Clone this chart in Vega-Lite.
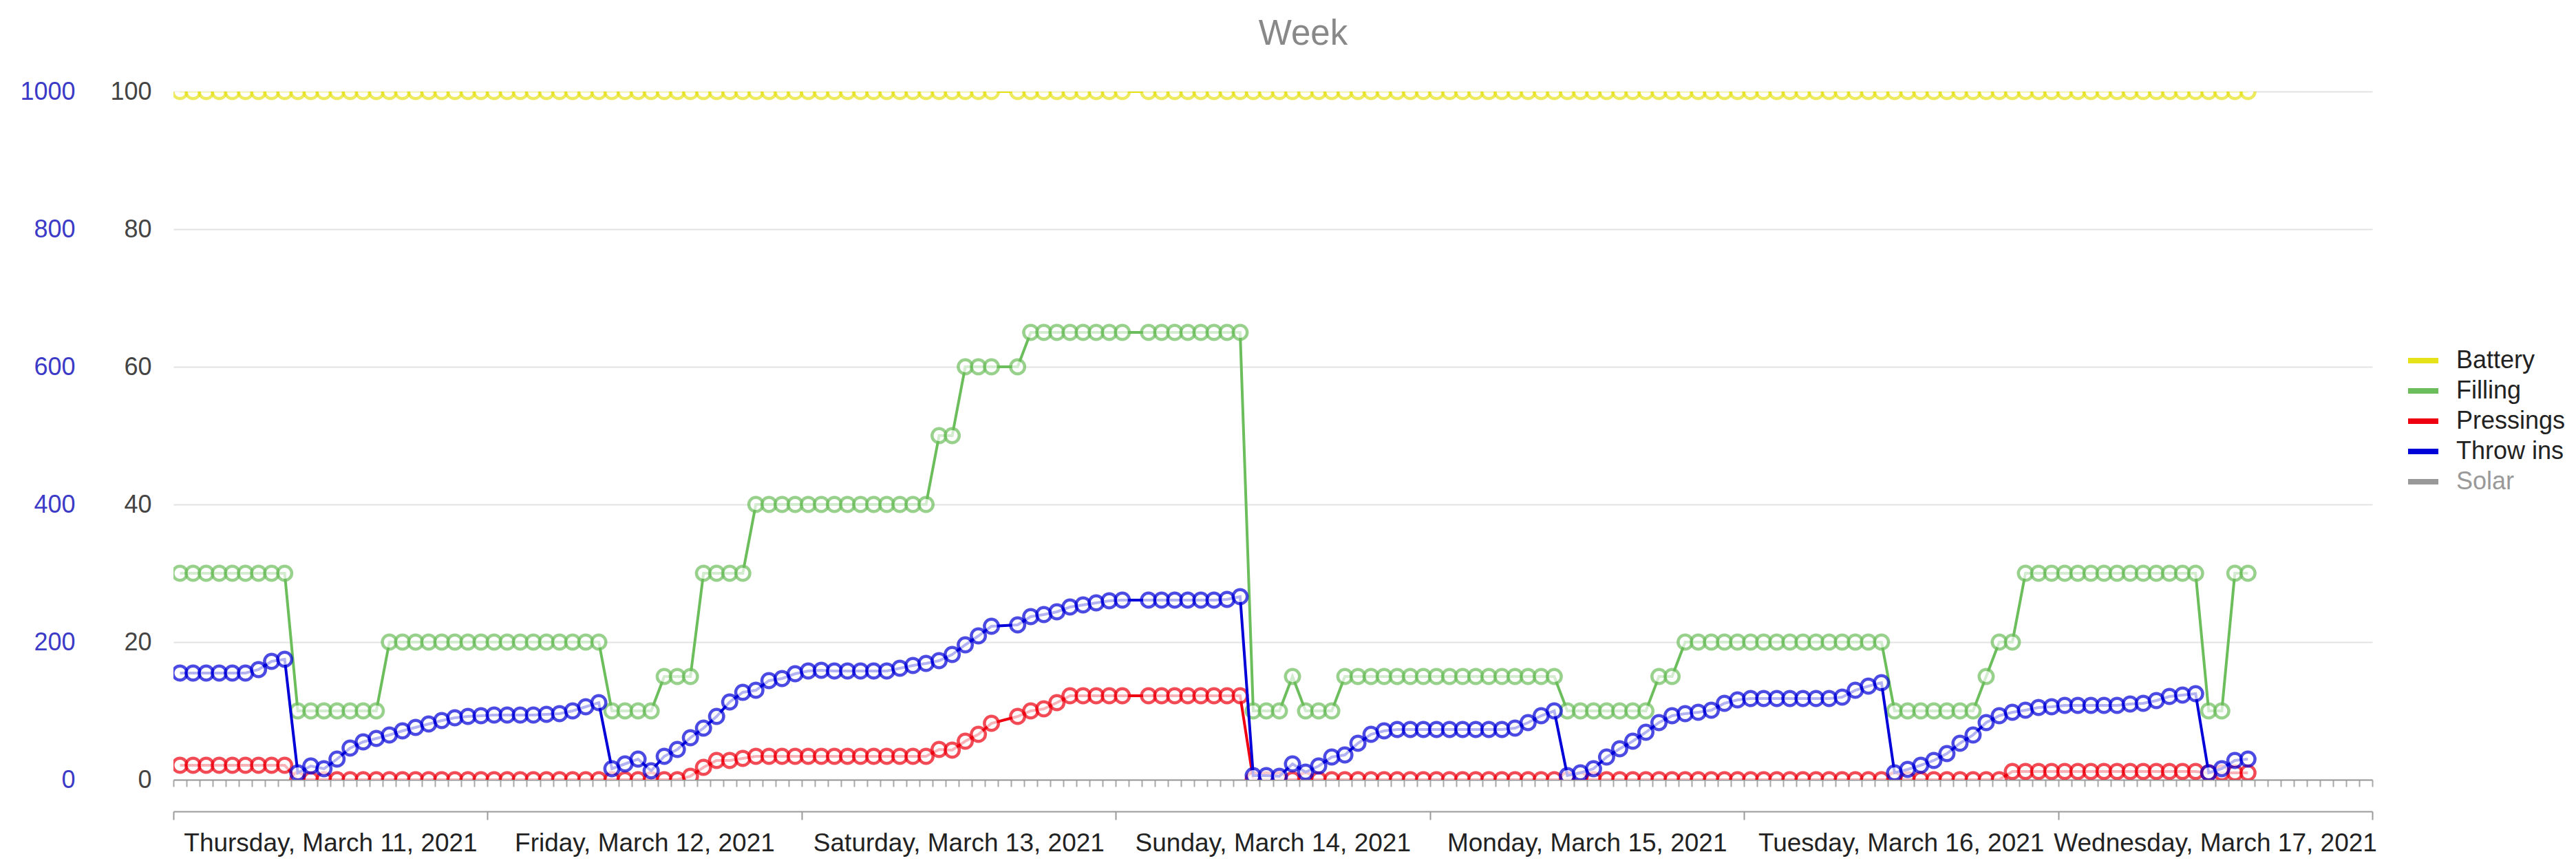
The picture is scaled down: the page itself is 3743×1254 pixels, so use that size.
{
"$schema": "https://vega.github.io/schema/vega-lite/v6.json",
"autosize": "none",
"width": 3195,
"height": 1000,
"padding": {"left": 252, "top": 133, "right": 296, "bottom": 121},
"background": "white",
"config": {"font": "Liberation Sans", "view": {"stroke": null}},
"title": {"text": "Week", "fontSize": 51, "color": "#888888", "fontWeight": "normal", "anchor": "middle", "dx": 44, "offset": 39},
"datasets": {
"battery": [
{"t":"2021-03-11T00:30","v":100},{"t":"2021-03-11T01:30","v":100},{"t":"2021-03-11T02:30","v":100},{"t":"2021-03-11T03:30","v":100},{"t":"2021-03-11T04:30","v":100},{"t":"2021-03-11T05:30","v":100},{"t":"2021-03-11T06:30","v":100},{"t":"2021-03-11T07:30","v":100},{"t":"2021-03-11T08:30","v":100},{"t":"2021-03-11T09:30","v":100},{"t":"2021-03-11T10:30","v":100},{"t":"2021-03-11T11:30","v":100},{"t":"2021-03-11T12:30","v":100},{"t":"2021-03-11T13:30","v":100},{"t":"2021-03-11T14:30","v":100},{"t":"2021-03-11T15:30","v":100},{"t":"2021-03-11T16:30","v":100},{"t":"2021-03-11T17:30","v":100},{"t":"2021-03-11T18:30","v":100},{"t":"2021-03-11T19:30","v":100},{"t":"2021-03-11T20:30","v":100},{"t":"2021-03-11T21:30","v":100},{"t":"2021-03-11T22:30","v":100},{"t":"2021-03-11T23:30","v":100},
{"t":"2021-03-12T00:30","v":100},{"t":"2021-03-12T01:30","v":100},{"t":"2021-03-12T02:30","v":100},{"t":"2021-03-12T03:30","v":100},{"t":"2021-03-12T04:30","v":100},{"t":"2021-03-12T05:30","v":100},{"t":"2021-03-12T06:30","v":100},{"t":"2021-03-12T07:30","v":100},{"t":"2021-03-12T08:30","v":100},{"t":"2021-03-12T09:30","v":100},{"t":"2021-03-12T10:30","v":100},{"t":"2021-03-12T11:30","v":100},{"t":"2021-03-12T12:30","v":100},{"t":"2021-03-12T13:30","v":100},{"t":"2021-03-12T14:30","v":100},{"t":"2021-03-12T15:30","v":100},{"t":"2021-03-12T16:30","v":100},{"t":"2021-03-12T17:30","v":100},{"t":"2021-03-12T18:30","v":100},{"t":"2021-03-12T19:30","v":100},{"t":"2021-03-12T20:30","v":100},{"t":"2021-03-12T21:30","v":100},{"t":"2021-03-12T22:30","v":100},{"t":"2021-03-12T23:30","v":100},
{"t":"2021-03-13T00:30","v":100},{"t":"2021-03-13T01:30","v":100},{"t":"2021-03-13T02:30","v":100},{"t":"2021-03-13T03:30","v":100},{"t":"2021-03-13T04:30","v":100},{"t":"2021-03-13T05:30","v":100},{"t":"2021-03-13T06:30","v":100},{"t":"2021-03-13T07:30","v":100},{"t":"2021-03-13T08:30","v":100},{"t":"2021-03-13T09:30","v":100},{"t":"2021-03-13T10:30","v":100},{"t":"2021-03-13T11:30","v":100},{"t":"2021-03-13T12:30","v":100},{"t":"2021-03-13T13:30","v":100},{"t":"2021-03-13T14:30","v":100},{"t":"2021-03-13T16:30","v":100},{"t":"2021-03-13T17:30","v":100},{"t":"2021-03-13T18:30","v":100},{"t":"2021-03-13T19:30","v":100},{"t":"2021-03-13T20:30","v":100},{"t":"2021-03-13T21:30","v":100},{"t":"2021-03-13T22:30","v":100},{"t":"2021-03-13T23:30","v":100},
{"t":"2021-03-14T00:30","v":100},{"t":"2021-03-14T02:30","v":100},{"t":"2021-03-14T03:30","v":100},{"t":"2021-03-14T04:30","v":100},{"t":"2021-03-14T05:30","v":100},{"t":"2021-03-14T06:30","v":100},{"t":"2021-03-14T07:30","v":100},{"t":"2021-03-14T08:30","v":100},{"t":"2021-03-14T09:30","v":100},{"t":"2021-03-14T10:30","v":100},{"t":"2021-03-14T11:30","v":100},{"t":"2021-03-14T12:30","v":100},{"t":"2021-03-14T13:30","v":100},{"t":"2021-03-14T14:30","v":100},{"t":"2021-03-14T15:30","v":100},{"t":"2021-03-14T16:30","v":100},{"t":"2021-03-14T17:30","v":100},{"t":"2021-03-14T18:30","v":100},{"t":"2021-03-14T19:30","v":100},{"t":"2021-03-14T20:30","v":100},{"t":"2021-03-14T21:30","v":100},{"t":"2021-03-14T22:30","v":100},{"t":"2021-03-14T23:30","v":100},
{"t":"2021-03-15T00:30","v":100},{"t":"2021-03-15T01:30","v":100},{"t":"2021-03-15T02:30","v":100},{"t":"2021-03-15T03:30","v":100},{"t":"2021-03-15T04:30","v":100},{"t":"2021-03-15T05:30","v":100},{"t":"2021-03-15T06:30","v":100},{"t":"2021-03-15T07:30","v":100},{"t":"2021-03-15T08:30","v":100},{"t":"2021-03-15T09:30","v":100},{"t":"2021-03-15T10:30","v":100},{"t":"2021-03-15T11:30","v":100},{"t":"2021-03-15T12:30","v":100},{"t":"2021-03-15T13:30","v":100},{"t":"2021-03-15T14:30","v":100},{"t":"2021-03-15T15:30","v":100},{"t":"2021-03-15T16:30","v":100},{"t":"2021-03-15T17:30","v":100},{"t":"2021-03-15T18:30","v":100},{"t":"2021-03-15T19:30","v":100},{"t":"2021-03-15T20:30","v":100},{"t":"2021-03-15T21:30","v":100},{"t":"2021-03-15T22:30","v":100},{"t":"2021-03-15T23:30","v":100},
{"t":"2021-03-16T00:30","v":100},{"t":"2021-03-16T01:30","v":100},{"t":"2021-03-16T02:30","v":100},{"t":"2021-03-16T03:30","v":100},{"t":"2021-03-16T04:30","v":100},{"t":"2021-03-16T05:30","v":100},{"t":"2021-03-16T06:30","v":100},{"t":"2021-03-16T07:30","v":100},{"t":"2021-03-16T08:30","v":100},{"t":"2021-03-16T09:30","v":100},{"t":"2021-03-16T10:30","v":100},{"t":"2021-03-16T11:30","v":100},{"t":"2021-03-16T12:30","v":100},{"t":"2021-03-16T13:30","v":100},{"t":"2021-03-16T14:30","v":100},{"t":"2021-03-16T15:30","v":100},{"t":"2021-03-16T16:30","v":100},{"t":"2021-03-16T17:30","v":100},{"t":"2021-03-16T18:30","v":100},{"t":"2021-03-16T19:30","v":100},{"t":"2021-03-16T20:30","v":100},{"t":"2021-03-16T21:30","v":100},{"t":"2021-03-16T22:30","v":100},{"t":"2021-03-16T23:30","v":100},
{"t":"2021-03-17T00:30","v":100},{"t":"2021-03-17T01:30","v":100},{"t":"2021-03-17T02:30","v":100},{"t":"2021-03-17T03:30","v":100},{"t":"2021-03-17T04:30","v":100},{"t":"2021-03-17T05:30","v":100},{"t":"2021-03-17T06:30","v":100},{"t":"2021-03-17T07:30","v":100},{"t":"2021-03-17T08:30","v":100},{"t":"2021-03-17T09:30","v":100},{"t":"2021-03-17T10:30","v":100},{"t":"2021-03-17T11:30","v":100},{"t":"2021-03-17T12:30","v":100},{"t":"2021-03-17T13:30","v":100},{"t":"2021-03-17T14:30","v":100}
],
"filling": [
{"t":"2021-03-11T00:30","v":30},{"t":"2021-03-11T01:30","v":30},{"t":"2021-03-11T02:30","v":30},{"t":"2021-03-11T03:30","v":30},{"t":"2021-03-11T04:30","v":30},{"t":"2021-03-11T05:30","v":30},{"t":"2021-03-11T06:30","v":30},{"t":"2021-03-11T07:30","v":30},{"t":"2021-03-11T08:30","v":30},{"t":"2021-03-11T09:30","v":10},{"t":"2021-03-11T10:30","v":10},{"t":"2021-03-11T11:30","v":10},{"t":"2021-03-11T12:30","v":10},{"t":"2021-03-11T13:30","v":10},{"t":"2021-03-11T14:30","v":10},{"t":"2021-03-11T15:30","v":10},{"t":"2021-03-11T16:30","v":20},{"t":"2021-03-11T17:30","v":20},{"t":"2021-03-11T18:30","v":20},{"t":"2021-03-11T19:30","v":20},{"t":"2021-03-11T20:30","v":20},{"t":"2021-03-11T21:30","v":20},{"t":"2021-03-11T22:30","v":20},{"t":"2021-03-11T23:30","v":20},
{"t":"2021-03-12T00:30","v":20},{"t":"2021-03-12T01:30","v":20},{"t":"2021-03-12T02:30","v":20},{"t":"2021-03-12T03:30","v":20},{"t":"2021-03-12T04:30","v":20},{"t":"2021-03-12T05:30","v":20},{"t":"2021-03-12T06:30","v":20},{"t":"2021-03-12T07:30","v":20},{"t":"2021-03-12T08:30","v":20},{"t":"2021-03-12T09:30","v":10},{"t":"2021-03-12T10:30","v":10},{"t":"2021-03-12T11:30","v":10},{"t":"2021-03-12T12:30","v":10},{"t":"2021-03-12T13:30","v":15},{"t":"2021-03-12T14:30","v":15},{"t":"2021-03-12T15:30","v":15},{"t":"2021-03-12T16:30","v":30},{"t":"2021-03-12T17:30","v":30},{"t":"2021-03-12T18:30","v":30},{"t":"2021-03-12T19:30","v":30},{"t":"2021-03-12T20:30","v":40},{"t":"2021-03-12T21:30","v":40},{"t":"2021-03-12T22:30","v":40},{"t":"2021-03-12T23:30","v":40},
{"t":"2021-03-13T00:30","v":40},{"t":"2021-03-13T01:30","v":40},{"t":"2021-03-13T02:30","v":40},{"t":"2021-03-13T03:30","v":40},{"t":"2021-03-13T04:30","v":40},{"t":"2021-03-13T05:30","v":40},{"t":"2021-03-13T06:30","v":40},{"t":"2021-03-13T07:30","v":40},{"t":"2021-03-13T08:30","v":40},{"t":"2021-03-13T09:30","v":40},{"t":"2021-03-13T10:30","v":50},{"t":"2021-03-13T11:30","v":50},{"t":"2021-03-13T12:30","v":60},{"t":"2021-03-13T13:30","v":60},{"t":"2021-03-13T14:30","v":60},{"t":"2021-03-13T16:30","v":60},{"t":"2021-03-13T17:30","v":65},{"t":"2021-03-13T18:30","v":65},{"t":"2021-03-13T19:30","v":65},{"t":"2021-03-13T20:30","v":65},{"t":"2021-03-13T21:30","v":65},{"t":"2021-03-13T22:30","v":65},{"t":"2021-03-13T23:30","v":65},
{"t":"2021-03-14T00:30","v":65},{"t":"2021-03-14T02:30","v":65},{"t":"2021-03-14T03:30","v":65},{"t":"2021-03-14T04:30","v":65},{"t":"2021-03-14T05:30","v":65},{"t":"2021-03-14T06:30","v":65},{"t":"2021-03-14T07:30","v":65},{"t":"2021-03-14T08:30","v":65},{"t":"2021-03-14T09:30","v":65},{"t":"2021-03-14T10:30","v":10},{"t":"2021-03-14T11:30","v":10},{"t":"2021-03-14T12:30","v":10},{"t":"2021-03-14T13:30","v":15},{"t":"2021-03-14T14:30","v":10},{"t":"2021-03-14T15:30","v":10},{"t":"2021-03-14T16:30","v":10},{"t":"2021-03-14T17:30","v":15},{"t":"2021-03-14T18:30","v":15},{"t":"2021-03-14T19:30","v":15},{"t":"2021-03-14T20:30","v":15},{"t":"2021-03-14T21:30","v":15},{"t":"2021-03-14T22:30","v":15},{"t":"2021-03-14T23:30","v":15},
{"t":"2021-03-15T00:30","v":15},{"t":"2021-03-15T01:30","v":15},{"t":"2021-03-15T02:30","v":15},{"t":"2021-03-15T03:30","v":15},{"t":"2021-03-15T04:30","v":15},{"t":"2021-03-15T05:30","v":15},{"t":"2021-03-15T06:30","v":15},{"t":"2021-03-15T07:30","v":15},{"t":"2021-03-15T08:30","v":15},{"t":"2021-03-15T09:30","v":15},{"t":"2021-03-15T10:30","v":10},{"t":"2021-03-15T11:30","v":10},{"t":"2021-03-15T12:30","v":10},{"t":"2021-03-15T13:30","v":10},{"t":"2021-03-15T14:30","v":10},{"t":"2021-03-15T15:30","v":10},{"t":"2021-03-15T16:30","v":10},{"t":"2021-03-15T17:30","v":15},{"t":"2021-03-15T18:30","v":15},{"t":"2021-03-15T19:30","v":20},{"t":"2021-03-15T20:30","v":20},{"t":"2021-03-15T21:30","v":20},{"t":"2021-03-15T22:30","v":20},{"t":"2021-03-15T23:30","v":20},
{"t":"2021-03-16T00:30","v":20},{"t":"2021-03-16T01:30","v":20},{"t":"2021-03-16T02:30","v":20},{"t":"2021-03-16T03:30","v":20},{"t":"2021-03-16T04:30","v":20},{"t":"2021-03-16T05:30","v":20},{"t":"2021-03-16T06:30","v":20},{"t":"2021-03-16T07:30","v":20},{"t":"2021-03-16T08:30","v":20},{"t":"2021-03-16T09:30","v":20},{"t":"2021-03-16T10:30","v":20},{"t":"2021-03-16T11:30","v":10},{"t":"2021-03-16T12:30","v":10},{"t":"2021-03-16T13:30","v":10},{"t":"2021-03-16T14:30","v":10},{"t":"2021-03-16T15:30","v":10},{"t":"2021-03-16T16:30","v":10},{"t":"2021-03-16T17:30","v":10},{"t":"2021-03-16T18:30","v":15},{"t":"2021-03-16T19:30","v":20},{"t":"2021-03-16T20:30","v":20},{"t":"2021-03-16T21:30","v":30},{"t":"2021-03-16T22:30","v":30},{"t":"2021-03-16T23:30","v":30},
{"t":"2021-03-17T00:30","v":30},{"t":"2021-03-17T01:30","v":30},{"t":"2021-03-17T02:30","v":30},{"t":"2021-03-17T03:30","v":30},{"t":"2021-03-17T04:30","v":30},{"t":"2021-03-17T05:30","v":30},{"t":"2021-03-17T06:30","v":30},{"t":"2021-03-17T07:30","v":30},{"t":"2021-03-17T08:30","v":30},{"t":"2021-03-17T09:30","v":30},{"t":"2021-03-17T10:30","v":30},{"t":"2021-03-17T11:30","v":10},{"t":"2021-03-17T12:30","v":10},{"t":"2021-03-17T13:30","v":30},{"t":"2021-03-17T14:30","v":30}
],
"pressings": [
{"t":"2021-03-11T00:30","v":2.1},{"t":"2021-03-11T01:30","v":2.1},{"t":"2021-03-11T02:30","v":2.1},{"t":"2021-03-11T03:30","v":2.1},{"t":"2021-03-11T04:30","v":2.1},{"t":"2021-03-11T05:30","v":2.1},{"t":"2021-03-11T06:30","v":2.1},{"t":"2021-03-11T07:30","v":2.1},{"t":"2021-03-11T08:30","v":2.1},{"t":"2021-03-11T09:30","v":0},{"t":"2021-03-11T10:30","v":0},{"t":"2021-03-11T11:30","v":0},{"t":"2021-03-11T12:30","v":0},{"t":"2021-03-11T13:30","v":0},{"t":"2021-03-11T14:30","v":0},{"t":"2021-03-11T15:30","v":0},{"t":"2021-03-11T16:30","v":0},{"t":"2021-03-11T17:30","v":0},{"t":"2021-03-11T18:30","v":0},{"t":"2021-03-11T19:30","v":0},{"t":"2021-03-11T20:30","v":0},{"t":"2021-03-11T21:30","v":0},{"t":"2021-03-11T22:30","v":0},{"t":"2021-03-11T23:30","v":0},
{"t":"2021-03-12T00:30","v":0},{"t":"2021-03-12T01:30","v":0},{"t":"2021-03-12T02:30","v":0},{"t":"2021-03-12T03:30","v":0},{"t":"2021-03-12T04:30","v":0},{"t":"2021-03-12T05:30","v":0},{"t":"2021-03-12T06:30","v":0},{"t":"2021-03-12T07:30","v":0},{"t":"2021-03-12T08:30","v":0},{"t":"2021-03-12T09:30","v":0},{"t":"2021-03-12T10:30","v":0},{"t":"2021-03-12T11:30","v":0},{"t":"2021-03-12T12:30","v":0},{"t":"2021-03-12T13:30","v":0},{"t":"2021-03-12T14:30","v":0},{"t":"2021-03-12T15:30","v":0.5},{"t":"2021-03-12T16:30","v":1.8},{"t":"2021-03-12T17:30","v":2.8},{"t":"2021-03-12T18:30","v":2.8},{"t":"2021-03-12T19:30","v":3.1},{"t":"2021-03-12T20:30","v":3.4},{"t":"2021-03-12T21:30","v":3.4},{"t":"2021-03-12T22:30","v":3.4},{"t":"2021-03-12T23:30","v":3.4},
{"t":"2021-03-13T00:30","v":3.4},{"t":"2021-03-13T01:30","v":3.4},{"t":"2021-03-13T02:30","v":3.4},{"t":"2021-03-13T03:30","v":3.4},{"t":"2021-03-13T04:30","v":3.4},{"t":"2021-03-13T05:30","v":3.4},{"t":"2021-03-13T06:30","v":3.4},{"t":"2021-03-13T07:30","v":3.4},{"t":"2021-03-13T08:30","v":3.4},{"t":"2021-03-13T09:30","v":3.4},{"t":"2021-03-13T10:30","v":4.4},{"t":"2021-03-13T11:30","v":4.3},{"t":"2021-03-13T12:30","v":5.6},{"t":"2021-03-13T13:30","v":6.6},{"t":"2021-03-13T14:30","v":8.2},{"t":"2021-03-13T16:30","v":9.2},{"t":"2021-03-13T17:30","v":10.0},{"t":"2021-03-13T18:30","v":10.3},{"t":"2021-03-13T19:30","v":11.2},{"t":"2021-03-13T20:30","v":12.2},{"t":"2021-03-13T21:30","v":12.2},{"t":"2021-03-13T22:30","v":12.2},{"t":"2021-03-13T23:30","v":12.2},
{"t":"2021-03-14T00:30","v":12.2},{"t":"2021-03-14T02:30","v":12.2},{"t":"2021-03-14T03:30","v":12.2},{"t":"2021-03-14T04:30","v":12.2},{"t":"2021-03-14T05:30","v":12.2},{"t":"2021-03-14T06:30","v":12.2},{"t":"2021-03-14T07:30","v":12.2},{"t":"2021-03-14T08:30","v":12.2},{"t":"2021-03-14T09:30","v":12.2},{"t":"2021-03-14T10:30","v":0},{"t":"2021-03-14T11:30","v":0},{"t":"2021-03-14T12:30","v":0},{"t":"2021-03-14T13:30","v":0},{"t":"2021-03-14T14:30","v":0},{"t":"2021-03-14T15:30","v":0},{"t":"2021-03-14T16:30","v":0},{"t":"2021-03-14T17:30","v":0},{"t":"2021-03-14T18:30","v":0},{"t":"2021-03-14T19:30","v":0},{"t":"2021-03-14T20:30","v":0},{"t":"2021-03-14T21:30","v":0},{"t":"2021-03-14T22:30","v":0},{"t":"2021-03-14T23:30","v":0},
{"t":"2021-03-15T00:30","v":0},{"t":"2021-03-15T01:30","v":0},{"t":"2021-03-15T02:30","v":0},{"t":"2021-03-15T03:30","v":0},{"t":"2021-03-15T04:30","v":0},{"t":"2021-03-15T05:30","v":0},{"t":"2021-03-15T06:30","v":0},{"t":"2021-03-15T07:30","v":0},{"t":"2021-03-15T08:30","v":0},{"t":"2021-03-15T09:30","v":0},{"t":"2021-03-15T10:30","v":0},{"t":"2021-03-15T11:30","v":0},{"t":"2021-03-15T12:30","v":0},{"t":"2021-03-15T13:30","v":0},{"t":"2021-03-15T14:30","v":0},{"t":"2021-03-15T15:30","v":0},{"t":"2021-03-15T16:30","v":0},{"t":"2021-03-15T17:30","v":0},{"t":"2021-03-15T18:30","v":0},{"t":"2021-03-15T19:30","v":0},{"t":"2021-03-15T20:30","v":0},{"t":"2021-03-15T21:30","v":0},{"t":"2021-03-15T22:30","v":0},{"t":"2021-03-15T23:30","v":0},
{"t":"2021-03-16T00:30","v":0},{"t":"2021-03-16T01:30","v":0},{"t":"2021-03-16T02:30","v":0},{"t":"2021-03-16T03:30","v":0},{"t":"2021-03-16T04:30","v":0},{"t":"2021-03-16T05:30","v":0},{"t":"2021-03-16T06:30","v":0},{"t":"2021-03-16T07:30","v":0},{"t":"2021-03-16T08:30","v":0},{"t":"2021-03-16T09:30","v":0},{"t":"2021-03-16T10:30","v":0},{"t":"2021-03-16T11:30","v":0},{"t":"2021-03-16T12:30","v":0},{"t":"2021-03-16T13:30","v":0},{"t":"2021-03-16T14:30","v":0},{"t":"2021-03-16T15:30","v":0},{"t":"2021-03-16T16:30","v":0},{"t":"2021-03-16T17:30","v":0},{"t":"2021-03-16T18:30","v":0},{"t":"2021-03-16T19:30","v":0},{"t":"2021-03-16T20:30","v":1.2},{"t":"2021-03-16T21:30","v":1.2},{"t":"2021-03-16T22:30","v":1.2},{"t":"2021-03-16T23:30","v":1.2},
{"t":"2021-03-17T00:30","v":1.2},{"t":"2021-03-17T01:30","v":1.2},{"t":"2021-03-17T02:30","v":1.2},{"t":"2021-03-17T03:30","v":1.2},{"t":"2021-03-17T04:30","v":1.2},{"t":"2021-03-17T05:30","v":1.2},{"t":"2021-03-17T06:30","v":1.2},{"t":"2021-03-17T07:30","v":1.2},{"t":"2021-03-17T08:30","v":1.2},{"t":"2021-03-17T09:30","v":1.2},{"t":"2021-03-17T10:30","v":1.2},{"t":"2021-03-17T11:30","v":1.0},{"t":"2021-03-17T12:30","v":1.0},{"t":"2021-03-17T13:30","v":1.0},{"t":"2021-03-17T14:30","v":1.0}
],
"throwins": [
{"t":"2021-03-11T00:30","v":155},{"t":"2021-03-11T01:30","v":155},{"t":"2021-03-11T02:30","v":155},{"t":"2021-03-11T03:30","v":155},{"t":"2021-03-11T04:30","v":155},{"t":"2021-03-11T05:30","v":155},{"t":"2021-03-11T06:30","v":160},{"t":"2021-03-11T07:30","v":172},{"t":"2021-03-11T08:30","v":175},{"t":"2021-03-11T09:30","v":10},{"t":"2021-03-11T10:30","v":20},{"t":"2021-03-11T11:30","v":16},{"t":"2021-03-11T12:30","v":30},{"t":"2021-03-11T13:30","v":46},{"t":"2021-03-11T14:30","v":55},{"t":"2021-03-11T15:30","v":60},{"t":"2021-03-11T16:30","v":65},{"t":"2021-03-11T17:30","v":71},{"t":"2021-03-11T18:30","v":76},{"t":"2021-03-11T19:30","v":81},{"t":"2021-03-11T20:30","v":86},{"t":"2021-03-11T21:30","v":90},{"t":"2021-03-11T22:30","v":92},{"t":"2021-03-11T23:30","v":93},
{"t":"2021-03-12T00:30","v":94},{"t":"2021-03-12T01:30","v":94},{"t":"2021-03-12T02:30","v":94},{"t":"2021-03-12T03:30","v":94},{"t":"2021-03-12T04:30","v":95},{"t":"2021-03-12T05:30","v":96},{"t":"2021-03-12T06:30","v":100},{"t":"2021-03-12T07:30","v":106},{"t":"2021-03-12T08:30","v":112},{"t":"2021-03-12T09:30","v":16},{"t":"2021-03-12T10:30","v":23},{"t":"2021-03-12T11:30","v":30},{"t":"2021-03-12T12:30","v":13},{"t":"2021-03-12T13:30","v":34},{"t":"2021-03-12T14:30","v":44},{"t":"2021-03-12T15:30","v":61},{"t":"2021-03-12T16:30","v":75},{"t":"2021-03-12T17:30","v":92},{"t":"2021-03-12T18:30","v":113},{"t":"2021-03-12T19:30","v":127},{"t":"2021-03-12T20:30","v":130},{"t":"2021-03-12T21:30","v":144},{"t":"2021-03-12T22:30","v":147},{"t":"2021-03-12T23:30","v":154},
{"t":"2021-03-13T00:30","v":158},{"t":"2021-03-13T01:30","v":159},{"t":"2021-03-13T02:30","v":158},{"t":"2021-03-13T03:30","v":158},{"t":"2021-03-13T04:30","v":158},{"t":"2021-03-13T05:30","v":158},{"t":"2021-03-13T06:30","v":158},{"t":"2021-03-13T07:30","v":162},{"t":"2021-03-13T08:30","v":166},{"t":"2021-03-13T09:30","v":169},{"t":"2021-03-13T10:30","v":173},{"t":"2021-03-13T11:30","v":182},{"t":"2021-03-13T12:30","v":196},{"t":"2021-03-13T13:30","v":209},{"t":"2021-03-13T14:30","v":223},{"t":"2021-03-13T16:30","v":225},{"t":"2021-03-13T17:30","v":237},{"t":"2021-03-13T18:30","v":240},{"t":"2021-03-13T19:30","v":244},{"t":"2021-03-13T20:30","v":251},{"t":"2021-03-13T21:30","v":254},{"t":"2021-03-13T22:30","v":257},{"t":"2021-03-13T23:30","v":260},
{"t":"2021-03-14T00:30","v":261},{"t":"2021-03-14T02:30","v":261},{"t":"2021-03-14T03:30","v":261},{"t":"2021-03-14T04:30","v":261},{"t":"2021-03-14T05:30","v":261},{"t":"2021-03-14T06:30","v":261},{"t":"2021-03-14T07:30","v":261},{"t":"2021-03-14T08:30","v":262},{"t":"2021-03-14T09:30","v":266},{"t":"2021-03-14T10:30","v":6},{"t":"2021-03-14T11:30","v":6},{"t":"2021-03-14T12:30","v":5},{"t":"2021-03-14T13:30","v":23},{"t":"2021-03-14T14:30","v":11},{"t":"2021-03-14T15:30","v":20},{"t":"2021-03-14T16:30","v":33},{"t":"2021-03-14T17:30","v":36},{"t":"2021-03-14T18:30","v":53},{"t":"2021-03-14T19:30","v":66},{"t":"2021-03-14T20:30","v":71},{"t":"2021-03-14T21:30","v":73},{"t":"2021-03-14T22:30","v":73},{"t":"2021-03-14T23:30","v":73},
{"t":"2021-03-15T00:30","v":73},{"t":"2021-03-15T01:30","v":73},{"t":"2021-03-15T02:30","v":73},{"t":"2021-03-15T03:30","v":73},{"t":"2021-03-15T04:30","v":73},{"t":"2021-03-15T05:30","v":73},{"t":"2021-03-15T06:30","v":75},{"t":"2021-03-15T07:30","v":83},{"t":"2021-03-15T08:30","v":93},{"t":"2021-03-15T09:30","v":100},{"t":"2021-03-15T10:30","v":6},{"t":"2021-03-15T11:30","v":10},{"t":"2021-03-15T12:30","v":16},{"t":"2021-03-15T13:30","v":33},{"t":"2021-03-15T14:30","v":45},{"t":"2021-03-15T15:30","v":56},{"t":"2021-03-15T16:30","v":69},{"t":"2021-03-15T17:30","v":83},{"t":"2021-03-15T18:30","v":93},{"t":"2021-03-15T19:30","v":96},{"t":"2021-03-15T20:30","v":98},{"t":"2021-03-15T21:30","v":101},{"t":"2021-03-15T22:30","v":111},{"t":"2021-03-15T23:30","v":116},
{"t":"2021-03-16T00:30","v":118},{"t":"2021-03-16T01:30","v":118},{"t":"2021-03-16T02:30","v":118},{"t":"2021-03-16T03:30","v":118},{"t":"2021-03-16T04:30","v":118},{"t":"2021-03-16T05:30","v":118},{"t":"2021-03-16T06:30","v":118},{"t":"2021-03-16T07:30","v":120},{"t":"2021-03-16T08:30","v":130},{"t":"2021-03-16T09:30","v":136},{"t":"2021-03-16T10:30","v":141},{"t":"2021-03-16T11:30","v":10},{"t":"2021-03-16T12:30","v":15},{"t":"2021-03-16T13:30","v":21},{"t":"2021-03-16T14:30","v":28},{"t":"2021-03-16T15:30","v":38},{"t":"2021-03-16T16:30","v":53},{"t":"2021-03-16T17:30","v":65},{"t":"2021-03-16T18:30","v":83},{"t":"2021-03-16T19:30","v":93},{"t":"2021-03-16T20:30","v":98},{"t":"2021-03-16T21:30","v":101},{"t":"2021-03-16T22:30","v":105},{"t":"2021-03-16T23:30","v":106},
{"t":"2021-03-17T00:30","v":108},{"t":"2021-03-17T01:30","v":108},{"t":"2021-03-17T02:30","v":108},{"t":"2021-03-17T03:30","v":108},{"t":"2021-03-17T04:30","v":108},{"t":"2021-03-17T05:30","v":110},{"t":"2021-03-17T06:30","v":111},{"t":"2021-03-17T07:30","v":115},{"t":"2021-03-17T08:30","v":121},{"t":"2021-03-17T09:30","v":123},{"t":"2021-03-17T10:30","v":125},{"t":"2021-03-17T11:30","v":10},{"t":"2021-03-17T12:30","v":16},{"t":"2021-03-17T13:30","v":28},{"t":"2021-03-17T14:30","v":30}
]
},
"layer": [
{
"encoding": {
"x": {"field": "t", "type": "temporal", "scale": {"domain": ["2021-03-11T00:00", "2021-03-18T00:00"]},
 "axis": {"orient": "bottom", "offset": 0, "labels": false, "title": null, "grid": false, "domain": true, "domainColor": "#9a9a9a", "domainWidth": 2, "ticks": true, "tickCount": 168, "tickSize": 10, "tickColor": "#a8a8a8", "tickWidth": 2}},
"y": {"field": "v", "type": "quantitative", "scale": {"domain": [0, 100], "nice": false},
 "axis": {"orient": "left", "values": [0, 20, 40, 60, 80, 100], "title": null, "labelFontSize": 36, "labelColor": "#444444", "labelPadding": 32, "ticks": false, "domain": false, "grid": true, "gridColor": "#e3e3e3", "gridWidth": 2}}
},
"layer": [
{"data": {"name": "battery"}, "mark": {"type": "line", "strokeWidth": 4, "clip": true},
 "encoding": {"color": {"datum": "Battery", "type": "nominal",
  "scale": {"domain": ["Battery", "Filling", "Pressings", "Throw ins", "Solar"], "range": ["#e6e21a", "#6cbe5c", "#ee0010", "#0000d8", "#999999"]},
  "legend": {"orient": "none", "legendX": 3243, "legendY": 365, "title": null, "symbolType": "stroke", "symbolSize": 1936, "symbolStrokeWidth": 8, "labelFontSize": 36, "labelColor": "#222222", "rowPadding": 0, "labelOffset": 22, "padding": 0, "labelLimit": 400,
   "encode": {"labels": {"update": {"fill": {"signal": "datum.label == 'Solar' ? '#999999' : '#222222'"}}}}}}}},
{"data": {"name": "battery"}, "mark": {"type": "point", "shape": "circle", "filled": false, "fill": "white", "size": 420, "strokeWidth": 4.5, "clip": true},
 "encoding": {"color": {"datum": "Battery", "type": "nominal"}}},
{"data": {"name": "filling"}, "mark": {"type": "line", "strokeWidth": 4, "clip": true},
 "encoding": {"color": {"datum": "Filling", "type": "nominal"}}},
{"data": {"name": "filling"}, "mark": {"type": "point", "shape": "circle", "filled": false, "fill": "white", "size": 420, "strokeWidth": 4.5, "clip": true},
 "encoding": {"color": {"datum": "Filling", "type": "nominal"}}},
{"data": {"name": "pressings"}, "mark": {"type": "line", "strokeWidth": 4, "clip": true},
 "encoding": {"color": {"datum": "Pressings", "type": "nominal"}}},
{"data": {"name": "pressings"}, "mark": {"type": "point", "shape": "circle", "filled": false, "fill": "white", "size": 420, "strokeWidth": 4.5, "clip": true},
 "encoding": {"color": {"datum": "Pressings", "type": "nominal"}}}
]
},
{
"data": {"name": "throwins"},
"encoding": {
"x": {"field": "t", "type": "temporal", "scale": {"domain": ["2021-03-11T00:00", "2021-03-18T00:00"]},
 "axis": {"orient": "bottom", "offset": 46, "title": null, "grid": false, "domain": true, "domainColor": "#9a9a9a", "domainWidth": 2, "ticks": true, "tickSize": 12, "tickColor": "#9a9a9a", "tickWidth": 2, "tickCount": 7,
  "format": "%A, %B %-d, %Y", "labelExpr": "datum.index < 1 ? datum.label : ''",
  "labelOffset": 228, "labelAlign": "center", "labelPadding": 16, "labelFontSize": 37, "labelLimit": 600, "labelColor": "#222222", "labelOverlap": false, "labelBound": false, "labelFlush": false}},
"y": {"field": "v", "type": "quantitative", "scale": {"domain": [0, 1000], "nice": false},
 "axis": {"orient": "left", "offset": 111, "values": [0, 200, 400, 600, 800, 1000], "format": "d", "title": null, "labelFontSize": 36, "labelColor": "#3b3bc8", "labelPadding": 32, "ticks": false, "domain": false, "grid": false}}
},
"layer": [
{"mark": {"type": "line", "strokeWidth": 4, "clip": true}, "encoding": {"color": {"datum": "Throw ins", "type": "nominal"}}},
{"mark": {"type": "point", "shape": "circle", "filled": false, "fill": "white", "size": 420, "strokeWidth": 4.5, "clip": true}, "encoding": {"color": {"datum": "Throw ins", "type": "nominal"}}}
]
}
],
"resolve": {"scale": {"y": "independent"}, "axis": {"x": "independent"}}
}
